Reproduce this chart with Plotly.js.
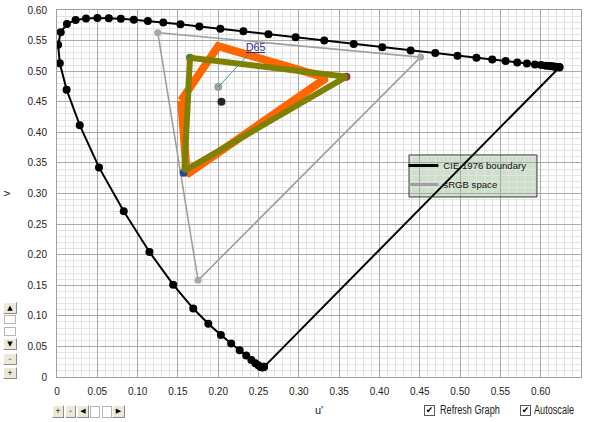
<!DOCTYPE html>
<html>
<head>
<meta charset="utf-8">
<script src="https://cdn.plot.ly/plotly-3.0.1.min.js"></script>
<style>
  html, body { margin:0; padding:0; background:#ffffff; }
  #wrap { position:relative; width:589px; height:422px; overflow:hidden; }
  #chart { position:absolute; left:0; top:0; width:589px; height:422px; }
  .btn { position:absolute; box-sizing:border-box; background:#ece9d8; border:1px solid; border-color:#ffffff #8c8c8c #8c8c8c #ffffff;
         font-family:"DejaVu Sans",sans-serif; font-size:7px; line-height:10px; text-align:center; color:#000; }
  .thumb { position:absolute; box-sizing:border-box; background:#ffffff; border:1px solid #b8b8b8; }
  .cb { position:absolute; box-sizing:border-box; width:11px; height:11px; background:#fff; border:1px solid #555;
        font-family:"DejaVu Sans",sans-serif; font-size:9px; line-height:9px; text-align:center; color:#000; }
  .lbl { position:absolute; font-family:"Liberation Sans",Arial,sans-serif; font-size:12px; color:#222; line-height:12px;
         white-space:nowrap; transform:scaleX(0.76); transform-origin:0 50%; }
</style>
</head>
<body>
<div id="wrap">
  <div id="chart"></div>
  <!-- vertical controls -->
  <div class="btn" style="left:3px;top:302px;width:14px;height:12px;">&#9650;</div>
  <div class="thumb" style="left:4px;top:315px;width:12px;height:9px;"></div>
  <div class="thumb" style="left:4px;top:327px;width:12px;height:9px;"></div>
  <div class="btn" style="left:3px;top:338px;width:14px;height:12px;">&#9660;</div>
  <div class="btn" style="left:3px;top:353px;width:14px;height:12px;">&#8211;</div>
  <div class="btn" style="left:3px;top:367px;width:14px;height:12px;">+</div>
  <!-- horizontal controls -->
  <div class="btn" style="left:52px;top:405px;width:12px;height:13px;line-height:11px;">+</div>
  <div class="btn" style="left:65px;top:405px;width:11px;height:13px;line-height:11px;">&#8211;</div>
  <div class="btn" style="left:77px;top:405px;width:12px;height:13px;line-height:11px;">&#9664;</div>
  <div class="thumb" style="left:90px;top:406px;width:10px;height:12px;"></div>
  <div class="thumb" style="left:102px;top:406px;width:10px;height:12px;"></div>
  <div class="btn" style="left:112px;top:405px;width:13px;height:13px;line-height:11px;">&#9654;</div>
  <!-- checkboxes -->
  <div class="cb" style="left:424px;top:405px;">&#10004;</div>
  <div class="lbl" style="left:440px;top:404px;">Refresh Graph</div>
  <div class="cb" style="left:520px;top:405px;">&#10004;</div>
  <div class="lbl" style="left:534px;top:404px;">Autoscale</div>
</div>
<script>
// CIE 1976 spectral locus (u', v'), 380 nm -> 700 nm in 5 nm steps
const cieU = [0.2568,0.2566,0.2564,0.2561,0.2557,0.2552,0.2545,0.2538,0.2522,0.2496,
              0.2461,0.2411,0.2347,0.2266,0.2161,0.2033,0.1877,0.1690,0.1441,0.1147,
              0.0828,0.0521,0.0282,0.0119,0.0035,0.0014,0.0046,0.0123,0.0231,0.0360,
              0.0501,0.0643,0.0792,0.0953,0.1127,0.1319,0.1531,0.1766,0.2026,0.2312,
              0.2623,0.2960,0.3315,0.3681,0.4035,0.4387,0.4692,0.4968,0.5203,0.5399,
              0.5565,0.5709,0.5830,0.5929,0.6005,0.6064,0.6109,0.6138,0.6162,0.6180,
              0.6199,0.6215,0.6226,0.6230,0.6234];
const cieV = [0.0166,0.0166,0.0163,0.0163,0.0159,0.0159,0.0159,0.0159,0.0169,0.0191,
              0.0226,0.0279,0.0350,0.0437,0.0549,0.0688,0.0871,0.1119,0.1510,0.2044,
              0.2708,0.3427,0.4117,0.4698,0.5130,0.5432,0.5638,0.5770,0.5837,0.5861,
              0.5868,0.5865,0.5856,0.5841,0.5821,0.5796,0.5766,0.5732,0.5694,0.5651,
              0.5604,0.5554,0.5501,0.5446,0.5393,0.5338,0.5296,0.5254,0.5219,0.5190,
              0.5165,0.5143,0.5125,0.5111,0.5100,0.5090,0.5084,0.5079,0.5076,0.5073,
              0.5070,0.5068,0.5066,0.5065,0.5065];

// sRGB gamut (R, G, B, back to R)
const srgbU = [0.451, 0.125, 0.175, 0.451];
const srgbV = [0.523, 0.563, 0.158, 0.523];

// orange outline
const orangeU = [0.154, 0.161, 0.334, 0.200, 0.154];
const orangeV = [0.452, 0.331, 0.489, 0.541, 0.452];

// olive triangle (G, R, B, back to G)
const oliveU = [0.165, 0.359, 0.158, 0.165];
const oliveV = [0.522, 0.491, 0.337, 0.522];
const primU = [0.165, 0.359, 0.157];
const primV = [0.522, 0.491, 0.334];
const primColors = ['#3f7f4f', '#8f2f3f', '#2646a0'];

// white points
const d65U = [0.200]; const d65V = [0.474];
const wpU = [0.204];  const wpV = [0.450];

// legend entries
const legendNames = ['CIE 1976 boundary', 'sRGB space'];

// ticks
const xTickVals = [0,0.05,0.10,0.15,0.20,0.25,0.30,0.35,0.40,0.45,0.50,0.55,0.60,0.65];
const xTickText = ['0','0.05','0.10','0.15','0.20','0.25','0.30','0.35','0.40','0.45','0.50','0.55','0.60','0.65'];
const yTickVals = [0,0.05,0.10,0.15,0.20,0.25,0.30,0.35,0.40,0.45,0.50,0.55,0.60];
const yTickText = ['0','0.05','0.10','0.15','0.20','0.25','0.30','0.35','0.40','0.45','0.50','0.55','0.60'];

const FONT = '"Liberation Sans", Arial, sans-serif';

const traces = [
  { x: cieU.concat([cieU[0]]), y: cieV.concat([cieV[0]]), mode:'lines',
    line:{color:'#000000', width:2}, showlegend:false, hoverinfo:'skip' },
  { x: cieU, y: cieV, mode:'markers', marker:{color:'#000000', size:8}, showlegend:false, hoverinfo:'skip' },
  { x: srgbU, y: srgbV, mode:'lines', line:{color:'#a0a0a0', width:1.6}, showlegend:false, hoverinfo:'skip' },
  { x: srgbU.slice(0,3), y: srgbV.slice(0,3), mode:'markers', marker:{color:'#a8a8a8', size:7}, showlegend:false, hoverinfo:'skip' },
  { x: orangeU, y: orangeV, mode:'lines', line:{color:'#ff6600', width:8}, showlegend:false, hoverinfo:'skip' },
  { x: primU, y: primV, mode:'markers', marker:{color:primColors, size:8}, showlegend:false, hoverinfo:'skip' },
  { x: oliveU, y: oliveV, mode:'lines', line:{color:'#808000', width:6}, showlegend:false, hoverinfo:'skip' },
  { x: d65U, y: d65V, mode:'markers', marker:{color:'#a0a0a0', size:8}, showlegend:false, hoverinfo:'skip' },
  { x: wpU, y: wpV, mode:'markers', marker:{color:'#23232b', size:8}, showlegend:false, hoverinfo:'skip' },
  // legend-only entries (thicker sample lines as in the original legend)
  { x:[null], y:[null], mode:'lines', name:legendNames[0], line:{color:'#000000', width:3}, showlegend:true, hoverinfo:'skip' },
  { x:[null], y:[null], mode:'lines', name:legendNames[1], line:{color:'#a0a0a0', width:3}, showlegend:true, hoverinfo:'skip' }
];

const axisCommon = {
  showgrid:true, gridcolor:'#a9a9a9', gridwidth:1,
  zeroline:false, showline:true, linecolor:'#a0a0a0', linewidth:1, mirror:true,
  tickmode:'array', ticks:'', tickfont:{family:FONT, size:10, color:'#222222'},
  minor:{dtick:0.01, showgrid:true, gridcolor:'#e3e3e3', gridwidth:1}
};

const layout = {
  width:589, height:422,
  margin:{l:57, r:8, t:10, b:45},
  paper_bgcolor:'rgba(0,0,0,0)', plot_bgcolor:'#ffffff',
  font:{family:FONT, size:10, color:'#222222'},
  xaxis: Object.assign({}, axisCommon, {
    range:[0,0.65], tickvals:xTickVals, ticktext:xTickText, ticklabelstandoff:5,
    title:{text:"u'", font:{family:FONT, size:11, color:'#222222'}, standoff:10}
  }),
  yaxis: Object.assign({}, axisCommon, {
    range:[0,0.6], tickvals:yTickVals, ticktext:yTickText, ticklabelstandoff:7,
    title:{text:'v', font:{family:FONT, size:11, color:'#222222'}, standoff:24}
  }),
  showlegend:true,
  legend:{x:0.661, y:0.616, xanchor:'left', yanchor:'top', bgcolor:'rgba(0,0,0,0)', borderwidth:0,
          font:{family:FONT, size:9.6, color:'#111111'}, tracegroupgap:0},
  shapes:[
    {type:'rect', xref:'paper', yref:'paper', x0:0.6718, x1:0.916, y0:0.4905, y1:0.605,
     fillcolor:'#cde0c9', line:{width:0}, layer:'between'},
    {type:'rect', xref:'paper', yref:'paper', x0:0.6718, x1:0.916, y0:0.4905, y1:0.605,
     fillcolor:'rgba(0,0,0,0)', line:{color:'#3a3a3a', width:1}, layer:'above'}
  ],
  annotations:[
    {x:d65U[0], y:d65V[0], xref:'x', yref:'y', text:"<span style='text-decoration:underline'>D65</span>",
     showarrow:true, arrowhead:0, arrowwidth:1, arrowcolor:'#2f9a9a', ax:37, ay:-40,
     font:{family:FONT, size:10.5, color:'#2b2b8f'}}
  ]
};

Plotly.newPlot('chart', traces, layout, {displayModeBar:false, staticPlot:true});
</script>
</body>
</html>
